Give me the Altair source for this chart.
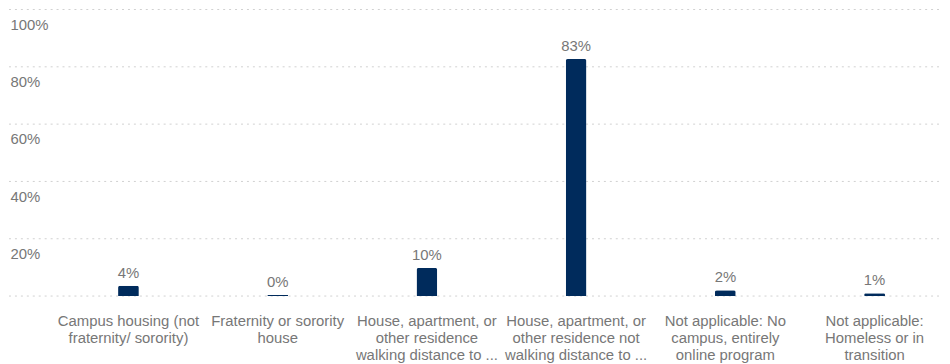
import altair as alt
import pandas as pd

categories = [
    "Campus housing (not\nfraternity/ sorority)",
    "Fraternity or sorority\nhouse",
    "House, apartment, or\nother residence\nwalking distance to ...",
    "House, apartment, or\nother residence not\nwalking distance to ...",
    "Not applicable: No\ncampus, entirely\nonline program",
    "Not applicable:\nHomeless or in\ntransition",
]
values = [3.6, 0.4, 9.8, 82.7, 2.0, 1.0]
y_ticks = [0, 20, 40, 60, 80, 100]

df = pd.DataFrame({"category": categories, "value": values})
df["idx"] = range(1, len(categories) + 1)
grid_df = pd.DataFrame({"tick": y_ticks})

FONT = "Liberation Sans"
GRAY = "#777777"
NAVY = "#002b5c"
W = 941
H = 289

y_scale = alt.Scale(domain=[0, 100], nice=False)
# each category occupies a 150.5px slot; the last slot runs past the right edge
x_scale = alt.Scale(domain=[0.1993, 6.4518], nice=False, zero=False, padding=0)

grid = alt.Chart(grid_df).mark_rule(
    color="#d0d0d0", strokeDash=[2, 4], strokeWidth=1
).encode(
    y=alt.Y(
        "tick:Q",
        scale=y_scale,
        axis=alt.Axis(
            title=None,
            values=y_ticks,
            labelExpr="datum.value == 0 ? '' : datum.value + '%'",
            labelAlign="left",
            labelBaseline="top",
            labelOffset=8,
            labelPadding=-1,
            labelFontSize=15,
            labelFont=FONT,
            labelColor=GRAY,
            ticks=False,
            tickSize=0,
            domain=False,
            grid=False,
        ),
    ),
    x=alt.value(0),
    x2=alt.value(W),
)

base = alt.Chart(df).encode(
    x=alt.X("idx:Q", scale=x_scale, axis=None),
    y=alt.Y("value:Q", scale=y_scale),
)

bars = base.mark_bar(
    size=21, color=NAVY, cornerRadiusTopLeft=2, cornerRadiusTopRight=2
)

labels = base.transform_calculate(
    txt="format(datum.value, '.0f') + '%'"
).mark_text(
    baseline="bottom", dy=-5, fontSize=15, font=FONT, color=GRAY
).encode(text="txt:N")

cat_labels = alt.Chart(df).mark_text(
    baseline="top",
    align="center",
    fontSize=15,
    font=FONT,
    color=GRAY,
    lineBreak="\n",
    lineHeight=17.2,
).encode(
    x=alt.X("idx:Q", scale=x_scale, axis=None),
    y=alt.value(H + 18),
    text="category:N",
)

chart = (
    alt.layer(grid, bars, labels, cat_labels)
    .properties(
        width=W,
        height=H,
        autosize=alt.AutoSizeParams(type="none"),
        padding={"left": 1, "top": 0, "right": 0, "bottom": 67},
    )
    .configure_view(stroke=None)
)

chart.save("out.html", embed_options={"renderer": "svg", "actions": False})
